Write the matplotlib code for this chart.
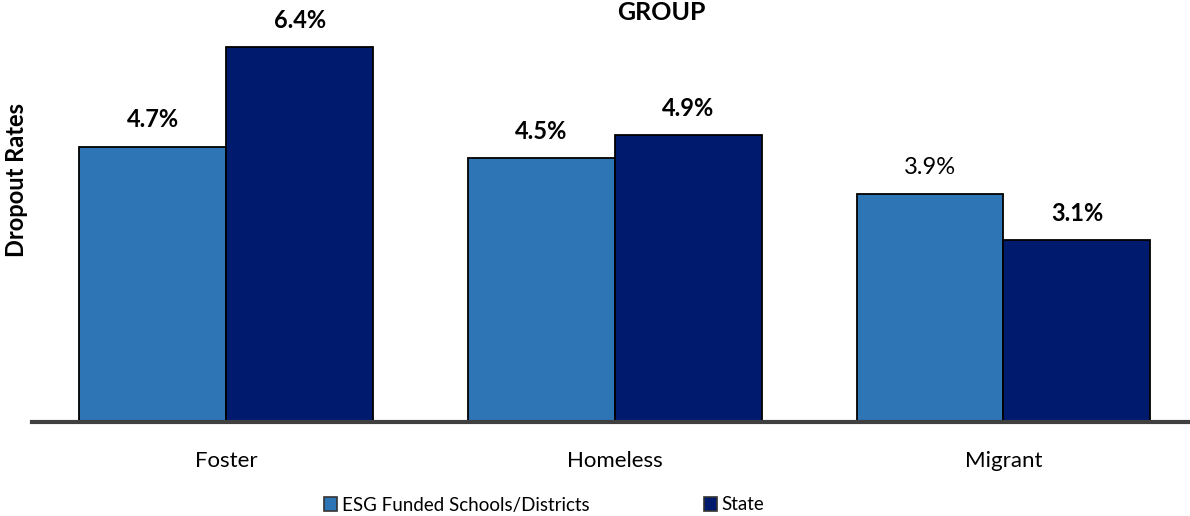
"""Tasas de abandono por grupo de estudiantes"""
import matplotlib
matplotlib.use("Agg")
import matplotlib.pyplot as plt
from matplotlib.patches import Patch
import numpy as np

# Datos
GRUPOS = ["Foster", "Homeless", "Migrant"]
SERIES = ["ESG Funded Schools/Districts", "State"]
VALORES_ESG = [4.7, 4.5, 3.9]
VALORES_ESTADO = [6.4, 4.9, 3.1]
NEGRITA_ESG = [True, True, False]
NEGRITA_ESTADO = [True, True, True]

COLORES = ["#2E75B6", "#001A6E"]

plt.rcParams["font.family"] = ["Lato", "DejaVu Sans"]

figura = plt.figure(figsize=(11.90, 5.16), dpi=100)
eje = figura.add_axes([32 / 1190, 94 / 516, 1 - 32 / 1190, 410 / 516])

x = np.arange(len(GRUPOS))
ancho = 0.378
barras_esg = eje.bar(x - ancho / 2, VALORES_ESG, width=ancho, color=COLORES[0],
                     edgecolor="black", linewidth=1.3)
barras_estado = eje.bar(x + ancho / 2, VALORES_ESTADO, width=ancho,
                        color=COLORES[1], edgecolor="black", linewidth=1.3)

for barras, valores, negritas in [(barras_esg, VALORES_ESG, NEGRITA_ESG),
                                  (barras_estado, VALORES_ESTADO, NEGRITA_ESTADO)]:
    for barra, valor, negrita in zip(barras, valores, negritas):
        eje.text(barra.get_x() + barra.get_width() / 2, valor + 0.26,
                 "{0:.1f}%".format(valor), ha="center", va="bottom",
                 fontsize=17, fontweight="bold" if negrita else "normal")

eje.set_xlim(-0.5, 2.48)
eje.set_ylim(0, 7.0)
eje.set_yticks([])
eje.set_xticks(x)
eje.set_xticklabels(GRUPOS, fontsize=16)
eje.tick_params(axis="x", length=0, pad=21)
for lado in ["top", "right", "left"]:
    eje.spines[lado].set_visible(False)
eje.spines["bottom"].set_color("#404040")
eje.spines["bottom"].set_linewidth(3)

figura.text(17 / 1190, 1 - 180 / 516, "Dropout Rates", rotation=90,
            ha="center", va="center", fontsize=17, fontweight="bold")
figura.text(661 / 1190, 1 - 1 / 516, "GROUP", ha="center", va="top",
            fontsize=18, fontweight="bold")

manejadores = [Patch(facecolor=c, edgecolor="#333333", linewidth=1.2)
               for c in COLORES]
figura.legend(manejadores, SERIES, loc="center", ncol=2,
              bbox_to_anchor=(544 / 1190, 1 - 505 / 516), frameon=False,
              fontsize=13.5, handlelength=0.7, handleheight=0.7,
              handletextpad=0.25, columnspacing=6.1)

figura.savefig("out.png", dpi=100)
plt.close(figura)
